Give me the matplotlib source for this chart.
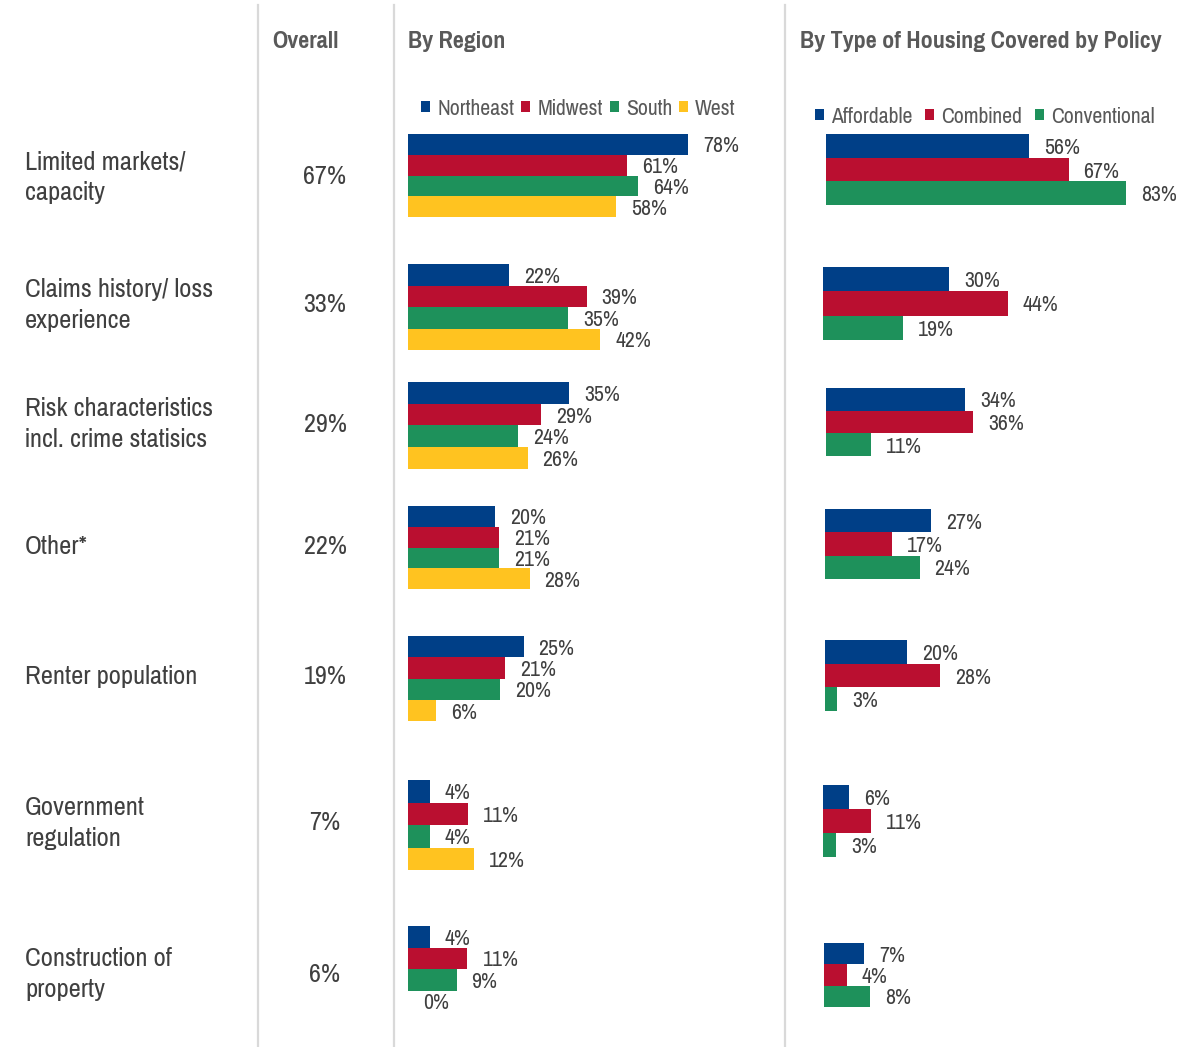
import numpy as np
import matplotlib.pyplot as plt
from matplotlib import font_manager as fm
from matplotlib.lines import Line2D

W, H = 1178, 1047

categories = ["Limited markets/\ncapacity", "Claims history/ loss\nexperience",
              "Risk characteristics\nincl. crime statisics", "Other*",
              "Renter population", "Government\nregulation", "Construction of\nproperty"]
overall = [67, 33, 29, 22, 19, 7, 6]

regions = ["Northeast", "Midwest", "South", "West"]
northeast = [78, 22, 35, 20, 25, 4, 4]
midwest = [61, 39, 29, 21, 21, 11, 11]
south = [64, 35, 24, 21, 20, 4, 9]
west = [58, 42, 26, 28, 6, 12, 0]

housing = ["Affordable", "Combined", "Conventional"]
affordable = [56, 30, 34, 27, 20, 6, 7]
combined = [67, 44, 36, 17, 28, 11, 4]
conventional = [83, 19, 11, 24, 3, 3, 8]

# layout: every group is its own little chart (own scale), pixels from top-left
label_y = [177, 305, 424, 546, 677, 823, 974]
reg_left = [408] * 7
reg_top = [134, 264, 382, 506, 636, 780, 926]
reg_h = [20.8, 21.5, 21.7, 20.8, 21.3, 22.5, 21.5]
reg_scale = [3.59, 4.58, 4.6, 4.34, 4.62, 5.48, 5.4]   # px per percent
hou_left = [826, 823, 826, 825, 825, 823, 824]
hou_top = [134, 267, 388, 509, 640, 785, 943]
hou_h = [23.7, 24.3, 22.7, 23.3, 23.7, 24.0, 21.3]
hou_scale = [3.62, 4.2, 4.09, 3.94, 4.1, 4.35, 5.73]

c_navy, c_red, c_green, c_yel = "#003F87", "#BA0F30", "#1E915B", "#FFC320"
txt = "#404040"
head = "#595959"

names = set(f.name for f in fm.fontManager.ttflist)
prefs = ["Liberation Sans Narrow", "Arial Narrow", "Pragati Narrow", "Archivo Narrow",
         "Roboto Condensed", "PT Sans Narrow", "Fira Sans Condensed",
         "IBM Plex Sans Condensed", "Asap Condensed", "Encode Sans Condensed"]
font = next((p for p in prefs if p in names), "DejaVu Sans")
plt.rcParams['font.family'] = [font, "DejaVu Sans"]

fig = plt.figure(figsize=(W / 100, H / 100), dpi=100)

def fx(x):
    return x / W

def fy(y):
    return 1 - y / H

# separators
for x in [258, 394, 785]:
    fig.add_artist(Line2D([fx(x), fx(x)], [fy(5), 0], color="#D9D9D9", lw=1.6))

# headers
for x, s in [(272, "Overall"), (408, "By Region"), (800, "By Type of Housing Covered by Policy")]:
    fig.text(fx(x), fy(41), s, fontsize=18.8, fontweight="bold", color=head, va="center")

for lab, ov, y in zip(categories, overall, label_y):
    fig.text(fx(25), fy(y), lab, fontsize=20.8, color=txt, va="center", ha="left", linespacing=1.38)
    fig.text(fx(325), fy(y), f"{ov}%", fontsize=20.5, color=txt, va="center", ha="center")

def group(left, right, top, bh, scale, vals, colors):
    n = len(vals)
    ax = fig.add_axes([fx(left), fy(top + bh * n), fx(right - left), bh * n / H])
    ax.set_xlim(0, (right - left) / scale)
    ax.set_ylim(n - 0.5, -0.5)
    ax.axis("off")
    bars = ax.barh(np.arange(n), vals, height=1.0, color=colors)
    for v, yy in zip(vals, np.arange(n)):
        ax.annotate(f"{v}%", (v, yy), xytext=(15, -2), textcoords="offset pixels",
                    va="center", ha="left", fontsize=17, color=txt, annotation_clip=False)
    return bars

reg_series = np.array([northeast, midwest, south, west]).T
hou_series = np.array([affordable, combined, conventional]).T
for g in range(len(categories)):
    rb = group(reg_left[g], 780, reg_top[g], reg_h[g], reg_scale[g], reg_series[g],
               [c_navy, c_red, c_green, c_yel])
    hb = group(hou_left[g], W, hou_top[g], hou_h[g], hou_scale[g], hou_series[g],
               [c_navy, c_red, c_green])
    if g == 0:
        reg_handles, hou_handles = rb.patches, hb.patches

leg_kw = dict(loc="center left", frameon=False, fontsize=17, handlelength=0.38, handleheight=0.38,
              handletextpad=0.3, labelcolor=head, borderaxespad=0, borderpad=0)
fig.legend(handles=reg_handles, labels=regions, ncol=4, columnspacing=0.3,
           bbox_to_anchor=(fx(421), fy(109)), **leg_kw)
fig.legend(handles=hou_handles, labels=housing, ncol=3, columnspacing=0.55,
           bbox_to_anchor=(fx(815), fy(117)), **leg_kw)

fig.savefig("out.png", dpi=100)
